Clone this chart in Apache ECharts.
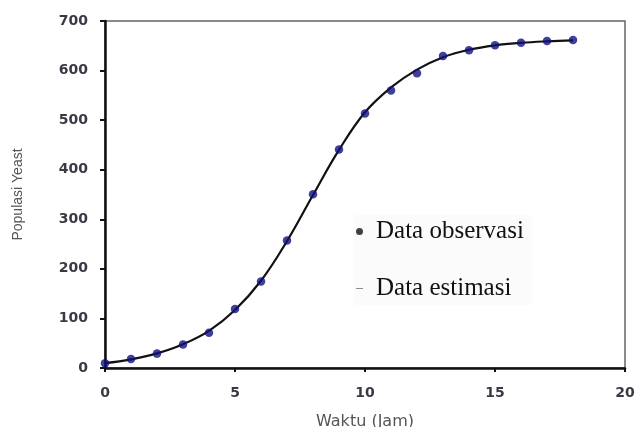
<!DOCTYPE html>
<html>
<head>
<meta charset="utf-8">
<script src="https://cdn.jsdelivr.net/npm/echarts@6/dist/echarts.min.js"></script>
<style>
html,body{margin:0;padding:0;background:#fff;}
#chart{width:636px;height:427px;}
</style>
</head>
<body>
<div id="chart"></div>
<script>
// Time (hours)
const hours = [0,1,2,3,4,5,6,7,8,9,10,11,12,13,14,15,16,17,18];
// Observed yeast population
const observed = [9.6,18.3,29.0,47.2,71.1,119.1,174.6,257.3,350.7,441.0,513.3,559.7,594.8,629.4,640.8,651.1,655.9,659.6,661.8];
// Estimated (fitted) yeast population
const estimated = [9.8,17.5,29.5,48,75,117,176,256,349,440,516,566,602,627,642,651,656,659,661];
const yTicks = [0,100,200,300,400,500,600,700];
const xTicks = [0,5,10,15,20];

const chart = echarts.init(document.getElementById('chart'), null, {renderer:'canvas'});
const labelStyle = {color:'#3a3a46', fontFamily:'DejaVu Sans', fontSize:14, fontWeight:'bold'};
chart.setOption({
  animation:false,
  backgroundColor:'#fff',
  grid:{left:105, top:21, right:11, bottom:59, show:true, borderColor:'#666', borderWidth:1.5,
        containLabel:false, outerBoundsMode:'none'},
  xAxis:{
    type:'value', min:xTicks[0], max:xTicks[xTicks.length-1], interval:5,
    name:'Waktu (Jam)', nameLocation:'middle', nameGap:46,
    nameTextStyle:{color:'#555', fontFamily:'DejaVu Sans', fontSize:16},
    axisLine:{lineStyle:{color:'#111', width:2.5}},
    axisTick:{show:true, inside:false, length:4, lineStyle:{color:'#111', width:2}},
    axisLabel:Object.assign({margin:18}, labelStyle),
    splitLine:{show:false}
  },
  yAxis:{
    type:'value', min:yTicks[0], max:yTicks[yTicks.length-1], interval:100,
    name:'Populasi Yeast', nameLocation:'middle', nameGap:80,
    nameTextStyle:{color:'#555', fontFamily:'Liberation Sans', fontSize:14},
    axisLine:{lineStyle:{color:'#111', width:2.5}},
    axisTick:{show:true, inside:false, length:5, lineStyle:{color:'#111', width:2}},
    axisLabel:Object.assign({margin:17}, labelStyle),
    splitLine:{show:false}
  },
  legend:{
    orient:'vertical', left:354, top:215, itemGap:32, itemWidth:7, itemHeight:7,
    backgroundColor:'rgba(247,247,250,0.5)',
    padding:[4,8,4,2],
    textStyle:{color:'#111', fontFamily:'Liberation Serif', fontSize:25, padding:[0,0,0,8]},
    data:[
      {name:'Data observasi', icon:'circle', itemStyle:{color:'#111'}},
      {name:'Data estimasi', icon:'path://M0,0L10,0L10,1.2L0,1.2Z', itemStyle:{color:'#777'}}
    ]
  },
  series:[
    {
      name:'Data estimasi', type:'line', smooth:0.4, showSymbol:false, symbol:'none',
      data: hours.map((h,i)=>[h, estimated[i]]),
      lineStyle:{color:'#111', width:2.2}, itemStyle:{color:'#111'}, z:2
    },
    {
      name:'Data observasi', type:'scatter', symbol:'circle', symbolSize:8.5,
      data: hours.map((h,i)=>[h, observed[i]]),
      itemStyle:{color:'#101080'}, z:3
    }
  ]
});
</script>
</body>
</html>
